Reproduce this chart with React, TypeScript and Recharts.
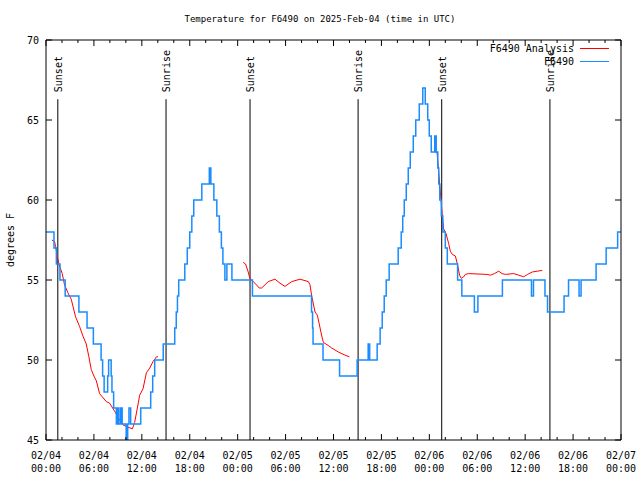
import React from 'react';
import { LineChart, Line, XAxis, YAxis, ReferenceLine, Legend } from 'recharts';

const FONT = '"DejaVu Sans Mono", monospace';

// x values are hours since 2025-02-04 00:00 UTC
const hourTicks = [0, 2, 4, 6, 8, 10, 12, 14, 16, 18, 20, 22, 24, 26, 28, 30, 32, 34, 36, 38, 40, 42, 44, 46, 48, 50, 52, 54, 56, 58, 60, 62, 64, 66, 68, 70, 72];
const dateLabels = ['02/04', '02/04', '02/04', '02/04', '02/05', '02/05', '02/05', '02/05', '02/06', '02/06', '02/06', '02/06', '02/07'];
const timeLabels = ['00:00', '06:00', '12:00', '18:00', '00:00', '06:00', '12:00', '18:00', '00:00', '06:00', '12:00', '18:00', '00:00'];
const tempTicks = [45, 50, 55, 60, 65, 70];
const legendOrder = ['F6490 Analysis', 'F6490'];

const sunsets = [1.48, 25.55, 49.55];
const sunrises = [15.03, 39.08, 63.1];

// F6490 observations [hour, degF], value holds until next point
const observed: [number, number][] = [
  [0, 58], [1.0, 57], [1.3, 56], [1.75, 55], [2.4, 54], [4.12, 53], [5.14, 52], [5.93, 51],
  [6.9, 50], [7.09, 49], [7.28, 48], [7.72, 49], [7.84, 50], [8.16, 49], [8.26, 48], [8.47, 47],
  [8.81, 46], [8.97, 47], [9.13, 46], [9.35, 47], [9.54, 46], [10.04, 45], [10.23, 46], [10.39, 47],
  [10.6, 46], [11.86, 47], [13.11, 48], [13.36, 49], [13.61, 50], [14.68, 51], [16.12, 52], [16.31, 53],
  [16.46, 54], [16.62, 55], [17.38, 56], [17.69, 57], [18.0, 58], [18.26, 59], [18.5, 60], [19.51, 61],
  [20.45, 62], [20.64, 61], [21.02, 60], [21.39, 59], [21.71, 58], [21.96, 57], [22.15, 56], [22.4, 55],
  [22.65, 56], [23.28, 55], [25.85, 54], [33.25, 53], [33.38, 52], [33.44, 51], [34.69, 50], [36.76, 49],
  [38.96, 50], [40.34, 51], [40.53, 50], [41.47, 51], [41.84, 52], [42.1, 53], [42.35, 54], [42.6, 55],
  [42.97, 56], [44.1, 57], [44.48, 58], [44.67, 59], [44.86, 60], [45.11, 61], [45.36, 62], [45.61, 63],
  [45.99, 64], [46.3, 65], [46.74, 66], [47.18, 67], [47.49, 66], [47.8, 65], [47.99, 64], [48.24, 63],
  [48.68, 64], [48.86, 63], [49.06, 62], [49.18, 61], [49.31, 60], [49.5, 59], [49.69, 58], [50.0, 57],
  [50.25, 56], [51.54, 55], [52.07, 54], [53.64, 53], [54.08, 54], [57.15, 55], [60.79, 54], [61.04, 55],
  [62.48, 54], [62.8, 53], [64.87, 54], [65.43, 55], [66.75, 54], [67.0, 55], [68.88, 56], [70.14, 57],
  [71.58, 58], [72, 58],
];

// F6490 analysis, three separate runs
const analysisDay1: [number, number][] = [
  [0.73, 57.5], [1.07, 57.4], [1.2, 57.1], [1.41, 56.5], [1.61, 56.0], [2.03, 55.4], [2.32, 54.7],
  [2.74, 54.2], [3.16, 53.8], [3.7, 52.7], [4.2, 52.1], [4.62, 51.5], [5.04, 51.0], [5.37, 50.2],
  [5.67, 49.4], [6.0, 49.0], [6.3, 48.7], [6.71, 47.9], [7.55, 47.4], [7.97, 47.3], [8.59, 46.8],
  [9.22, 46.25], [9.64, 45.95], [10.26, 45.8], [10.82, 45.7], [11.1, 46.1], [11.44, 47.0], [11.73, 47.8],
  [12.15, 48.2], [12.57, 49.2], [12.99, 49.5], [13.4, 49.9], [13.83, 50.2], [14.03, 50.2],
];
const analysisDay2: [number, number][] = [
  [24.69, 56.1], [24.99, 56.0], [25.32, 55.5], [25.53, 55.1], [26.16, 54.8], [26.7, 54.5], [27.0, 54.5],
  [27.83, 54.9], [28.67, 55.05], [29.3, 54.8], [29.92, 54.6], [30.77, 54.9], [31.81, 55.05], [32.85, 54.9],
  [33.06, 54.7], [33.27, 54.0], [33.69, 53.0], [33.98, 52.8], [34.32, 52.0], [34.53, 51.5], [34.73, 51.1],
  [35.36, 50.9], [35.78, 50.75], [36.61, 50.5], [37.45, 50.3], [37.99, 50.2],
];
const analysisDay3: [number, number][] = [
  [48.75, 63.0], [48.96, 63.0], [49.08, 62.3], [49.29, 61.0], [49.5, 59.8], [49.62, 59.0], [49.79, 58.2],
  [50.09, 57.9], [50.41, 57.3], [50.63, 56.8], [50.88, 56.6], [51.26, 56.5], [51.51, 56.0], [51.79, 55.3],
  [52.0, 55.1], [52.3, 55.2], [52.51, 55.35], [52.92, 55.4], [55.23, 55.35], [55.64, 55.3], [56.15, 55.4],
  [56.69, 55.55], [57.11, 55.4], [57.53, 55.35], [58.57, 55.4], [59.2, 55.3], [59.82, 55.2], [60.29, 55.35],
  [60.88, 55.5], [61.51, 55.55], [62.13, 55.6],
];

const toRows = (pts: [number, number][]) => pts.map(([h, t]) => ({ h, t }));
const obsData = toRows(observed);
const analysisData = [
  ...toRows(analysisDay1),
  { h: 19, t: null },
  ...toRows(analysisDay2),
  { h: 43, t: null },
  ...toRows(analysisDay3),
];

const textStyle = { fontFamily: FONT, fontSize: 10, fill: '#000' };

const BottomTick = (props: any) => {
  const { x, y, payload } = props;
  const h = payload.value;
  const major = h % 6 === 0;
  const i = h / 6;
  return (
    <g>
      <line x1={x} x2={x} y1={y} y2={y - (major ? 6 : 3)} stroke="#000" />
      {major && (
        <text x={x} y={y + 19} textAnchor="middle" style={textStyle}>
          <tspan x={x}>{dateLabels[i]}</tspan>
          <tspan x={x} dy={13}>{timeLabels[i]}</tspan>
        </text>
      )}
    </g>
  );
};

const TopTick = (props: any) => {
  const { x, y, payload } = props;
  const major = payload.value % 6 === 0;
  return <line x1={x} x2={x} y1={y} y2={y + (major ? 6 : 3)} stroke="#000" />;
};

const LeftTick = (props: any) => {
  const { x, y, payload } = props;
  return (
    <g>
      <line x1={x} x2={x + 6} y1={y} y2={y} stroke="#000" />
      <text x={x - 7} y={y} dy={4} textAnchor="end" style={textStyle}>{payload.value}</text>
    </g>
  );
};

const RightTick = (props: any) => {
  const { x, y } = props;
  return <line x1={x} x2={x - 6} y1={y} y2={y} stroke="#000" />;
};

const sunLabel = (text: string) => (props: any) => {
  const { viewBox } = props;
  const x = viewBox.x + 4;
  const y = viewBox.y - 7;
  return (
    <text x={x} y={y} transform={`rotate(-90 ${x} ${y})`} textAnchor="start" style={textStyle}>
      {text}
    </text>
  );
};

const renderLegend = (props: any) => {
  const items = [...(props.payload || [])].sort(
    (a: any, b: any) => legendOrder.indexOf(a.value) - legendOrder.indexOf(b.value)
  );
  return (
    <div style={{ fontFamily: FONT, fontSize: 10, color: '#000' }}>
      {items.map((entry: any) => (
        <div key={entry.value} style={{ display: 'flex', justifyContent: 'flex-end', alignItems: 'center', height: 13 }}>
          <span>{entry.value}</span>
          <span style={{ display: 'inline-block', width: 29, borderTop: `1px solid ${entry.color}`, marginLeft: 6 }} />
        </div>
      ))}
    </div>
  );
};

const App = () => (
  <div style={{ position: 'absolute', left: 0, top: 0, width: 640, height: 480, background: '#fff' }}>
    <div
      style={{
        position: 'absolute', top: 13, left: 0, width: 640, textAlign: 'center',
        fontFamily: FONT, fontSize: 9, lineHeight: '12px', color: '#000',
      }}
    >
      Temperature for F6490 on 2025-Feb-04 (time in UTC)
    </div>
    <LineChart width={640} height={480} margin={{ top: 39, right: 18, bottom: 0, left: 0 }}>
      <XAxis
        xAxisId="bottom" dataKey="h" type="number" domain={[0, 72]} ticks={hourTicks}
        allowDataOverflow interval={0} height={40} tickSize={0} tickMargin={0}
        tickLine={false} axisLine={{ stroke: '#000' }} tick={<BottomTick />}
      />
      <XAxis
        xAxisId="top" orientation="top" dataKey="h" type="number" domain={[0, 72]} ticks={hourTicks}
        allowDataOverflow interval={0} height={1} tickSize={0} tickMargin={0}
        tickLine={false} axisLine={{ stroke: '#000' }} tick={<TopTick />}
      />
      <YAxis
        yAxisId="left" type="number" domain={[45, 70]} ticks={tempTicks} allowDataOverflow interval={0}
        width={46} tickSize={0} tickMargin={0} tickLine={false} axisLine={{ stroke: '#000' }} tick={<LeftTick />}
        label={{
          content: () => (
            <text x={14} y={240} transform="rotate(-90 14 240)" textAnchor="middle" style={textStyle}>
              degrees F
            </text>
          ),
        }}
      />
      <YAxis
        yAxisId="right" orientation="right" type="number" domain={[45, 70]} ticks={tempTicks} allowDataOverflow
        interval={0} width={1} tickSize={0} tickMargin={0} tickLine={false} axisLine={{ stroke: '#000' }}
        tick={<RightTick />}
      />
      {sunsets.map((h) => (
        <ReferenceLine
          key={`set-${h}`} xAxisId="bottom" yAxisId="left" stroke="#000" strokeWidth={1}
          segment={[{ x: h, y: 45 }, { x: h, y: 66.3 }]} label={{ content: sunLabel('Sunset') }}
        />
      ))}
      {sunrises.map((h) => (
        <ReferenceLine
          key={`rise-${h}`} xAxisId="bottom" yAxisId="left" stroke="#000" strokeWidth={1}
          segment={[{ x: h, y: 45 }, { x: h, y: 66.3 }]} label={{ content: sunLabel('Sunrise') }}
        />
      ))}
      <Line
        xAxisId="bottom" yAxisId="left" data={analysisData} dataKey="t" name="F6490 Analysis"
        type="linear" stroke="#ff0000" strokeWidth={1} dot={false} connectNulls={false} isAnimationActive={false}
      />
      <Line
        xAxisId="bottom" yAxisId="left" data={obsData} dataKey="t" name="F6490"
        type="stepAfter" stroke="#1a8cff" strokeWidth={1.5} dot={false} isAnimationActive={false}
      />
      <Legend
        layout="horizontal" verticalAlign="middle" align="center" content={renderLegend}
        wrapperStyle={{ top: 42, left: 449, width: 160, height: 28 }}
      />
    </LineChart>
  </div>
);

export default App;
